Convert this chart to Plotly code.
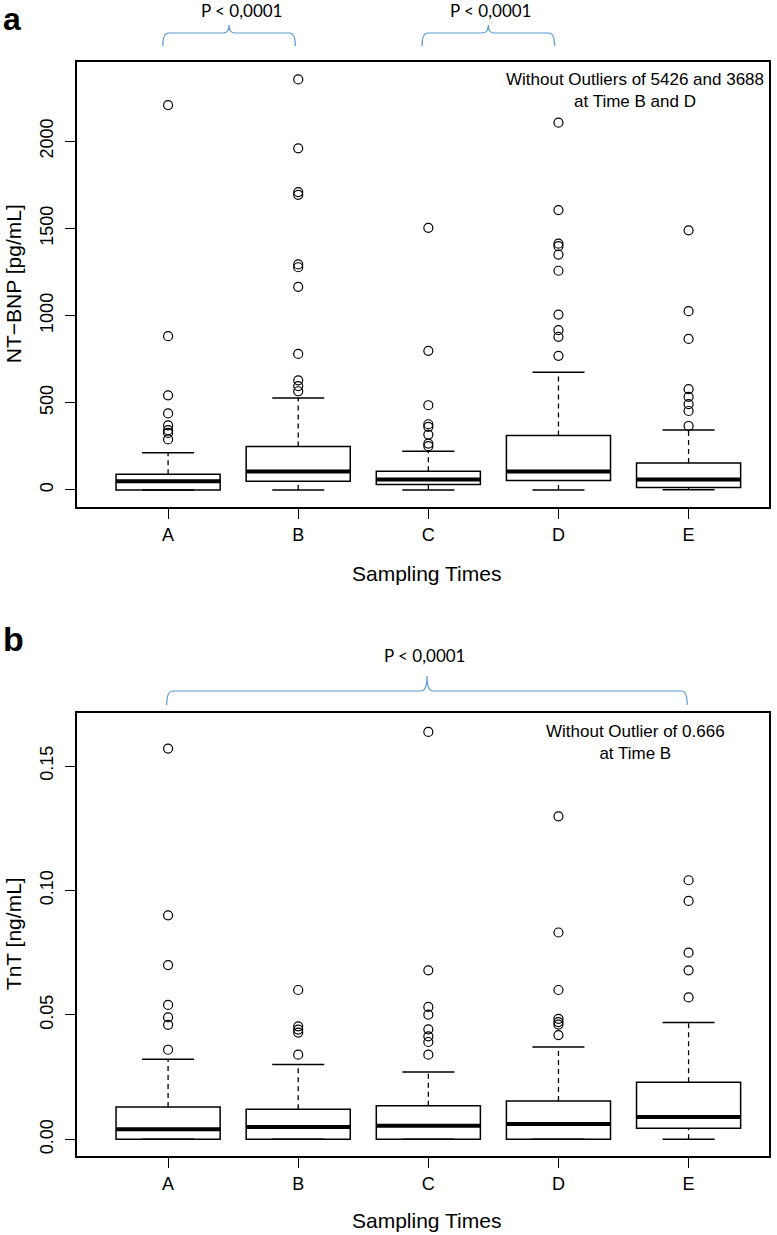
import plotly.graph_objects as go

# ---------------- data ----------------
categories = ["A", "B", "C", "D", "E"]

# Panel a: NT-BNP [pg/mL]
bnp_q1 = [0, 50, 31, 54, 14]
bnp_median = [50, 106, 60, 106, 60]
bnp_q3 = [90, 249, 107, 312, 155]
bnp_whisker_low = [0, 0, 0, 0, 2]
bnp_whisker_high = [214, 528, 222, 675, 344]
bnp_outliers = [
    [2207, 882, 543, 439, 371, 343, 327, 290],
    [2354, 1959, 1708, 1692, 1293, 1277, 1165, 780, 629, 596, 566],
    [1503, 798, 486, 377, 362, 318, 266, 251],
    [2106, 1605, 1412, 1398, 1350, 1257, 1006, 916, 878, 769],
    [1489, 1025, 866, 578, 534, 492, 453, 367],
]

# Panel b: TnT [ng/mL]
tnt_q1 = [0, 0, 0, 0, 0.0045]
tnt_median = [0.0040, 0.0050, 0.0055, 0.0062, 0.0090]
tnt_q3 = [0.0130, 0.0121, 0.0135, 0.0154, 0.0229]
tnt_whisker_low = [0, 0, 0, 0, 0]
tnt_whisker_high = [0.0322, 0.0301, 0.0271, 0.0371, 0.0469]
tnt_outliers = [
    [0.157, 0.090, 0.070, 0.054, 0.049, 0.046, 0.036],
    [0.060, 0.0454, 0.0441, 0.0429, 0.034],
    [0.1637, 0.0679, 0.0532, 0.0501, 0.0442, 0.0414, 0.0391, 0.034],
    [0.1298, 0.0831, 0.060, 0.0484, 0.0471, 0.0461, 0.0419],
    [0.1041, 0.0958, 0.075, 0.0679, 0.057],
]

bnp_ticks = [0, 500, 1000, 1500, 2000]
tnt_ticks = [0.0, 0.05, 0.10, 0.15]

# ---------------- styling ----------------
W, H = 777, 1235
ML, MR, MT, MB = 77, 6, 62, 79
PW, PH = W - ML - MR, H - MT - MB
FONT = "Liberation Sans, Arial, sans-serif"
PFONT = "Lato, Open Sans, sans-serif"
BLUE = "#5b9bd5"
BOX_W = 0.8
CAP_W = 0.4

positions = [i + 1 for i in range(len(categories))]


def px(x, y):
    """convert pixel location to paper coordinates"""
    return (x - ML) / PW, (H - MB - y) / PH


fig = go.Figure()


def add_panel(q1, med, q3, wlo, whi, outs, xa, ya):
    fig.add_trace(go.Box(
        x=positions, q1=q1, median=med, q3=q3,
        lowerfence=q1, upperfence=q3,
        width=BOX_W, whiskerwidth=0,
        fillcolor="white", line=dict(color="black", width=1.5),
        boxpoints=False, xaxis=xa, yaxis=ya, hoverinfo="skip",
    ))
    # dashed whiskers
    wx, wy = [], []
    for p, a, b, c, d in zip(positions, wlo, q1, q3, whi):
        wx += [p, p, None, p, p, None]
        wy += [a, b, None, c, d, None]
    fig.add_trace(go.Scatter(x=wx, y=wy, mode="lines", xaxis=xa, yaxis=ya,
                             line=dict(color="black", width=1.3, dash="5px,4px"),
                             hoverinfo="skip"))
    # caps
    cx, cy = [], []
    for p, a, d in zip(positions, wlo, whi):
        cx += [p - CAP_W / 2, p + CAP_W / 2, None, p - CAP_W / 2, p + CAP_W / 2, None]
        cy += [a, a, None, d, d, None]
    fig.add_trace(go.Scatter(x=cx, y=cy, mode="lines", xaxis=xa, yaxis=ya,
                             line=dict(color="black", width=1.5), hoverinfo="skip"))
    # thick medians
    mx, my = [], []
    for p, m in zip(positions, med):
        mx += [p - BOX_W / 2, p + BOX_W / 2, None]
        my += [m, m, None]
    fig.add_trace(go.Scatter(x=mx, y=my, mode="lines", xaxis=xa, yaxis=ya,
                             line=dict(color="black", width=4), hoverinfo="skip"))
    # outliers
    ox, oy = [], []
    for p, vals in zip(positions, outs):
        ox += [p] * len(vals)
        oy += vals
    fig.add_trace(go.Scatter(x=ox, y=oy, mode="markers", xaxis=xa, yaxis=ya,
                             marker=dict(symbol="circle-open", size=9,
                                         color="black", line=dict(width=1.2)),
                             hoverinfo="skip"))


add_panel(bnp_q1, bnp_median, bnp_q3, bnp_whisker_low, bnp_whisker_high,
          bnp_outliers, "x", "y")
add_panel(tnt_q1, tnt_median, tnt_q3, tnt_whisker_low, tnt_whisker_high,
          tnt_outliers, "x2", "y2")

xcommon = dict(range=[0.3, 5.618], tickvals=positions, ticktext=categories,
               ticks="outside", ticklen=10, tickwidth=1.2, tickcolor="black",
               showline=True, mirror=True, linecolor="black", linewidth=1.6,
               showgrid=False, zeroline=False, ticklabelstandoff=1,
               tickfont=dict(family=FONT, size=18, color="black"))
ycommon = dict(ticks="outside", ticklen=10, tickwidth=1.2, tickcolor="black",
               showline=True, mirror=True, linecolor="black", linewidth=1.6,
               showgrid=False, zeroline=False, tickangle=-90,
               ticklabelstandoff=5,
               tickfont=dict(family=FONT, size=18, color="black"))

ya_bot = (H - MB - 507) / PH
yb_top = (H - MB - 713) / PH

fig.update_layout(
    width=W, height=H,
    margin=dict(l=ML, r=MR, t=MT, b=MB),
    paper_bgcolor="white", plot_bgcolor="white",
    showlegend=False,
    xaxis=dict(domain=[0, 1], anchor="y", **xcommon),
    yaxis=dict(domain=[ya_bot, 1], anchor="x", range=[-97.5, 2453.8],
               tickvals=bnp_ticks, **ycommon),
    xaxis2=dict(domain=[0, 1], anchor="y2", **xcommon),
    yaxis2=dict(domain=[0, yb_top], anchor="x2", range=[-0.0067, 0.1713],
                tickvals=tnt_ticks, tickformat=".2f", **ycommon),
)

ann = []


def text(x, y, s, size, family=FONT, angle=0, bold=False, xanchor="center"):
    X, Y = px(x, y)
    ann.append(dict(x=X, y=Y, xref="paper", yref="paper", text=f"<b>{s}</b>" if bold else s,
                    showarrow=False, xanchor=xanchor, yanchor="middle", textangle=angle,
                    font=dict(family=family, size=size, color="black")))


text(1, 19, "a", 32, bold=True, xanchor="left")
text(1, 639, "b", 34, bold=True, xanchor="left")
text(242, 11, "P &lt; 0,0001", 17, family=PFONT)
text(492, 11, "P &lt; 0,0001", 17, family=PFONT)
text(426, 655, "P &lt; 0,0001", 17, family=PFONT)
text(637, 90, "Without Outliers of 5426 and 3688<br>at Time B and D", 17)
text(637, 742, "Without Outlier of 0.666<br>at Time B", 17)
text(14, 284, "NT−BNP [pg/mL]", 21, angle=-90)
text(14, 934, "TnT [ng/mL]", 21, angle=-90)
text(428, 573, "Sampling Times", 21)
text(428, 1220, "Sampling Times", 21)


def brace(x0, x1, ytop, ybot, ytip):
    xm = (x0 + x1) / 2
    r = 6

    def P(x, y):
        a, b = px(x, y)
        return f"{a:.5f},{b:.5f}"
    path = (f"M{P(x0, ybot)} Q{P(x0, ytop)} {P(x0 + r, ytop)} "
            f"L{P(xm - r, ytop)} Q{P(xm, ytop)} {P(xm, ytip)} "
            f"Q{P(xm, ytop)} {P(xm + r, ytop)} "
            f"L{P(x1 - r, ytop)} Q{P(x1, ytop)} {P(x1, ybot)}")
    return dict(type="path", path=path, xref="paper", yref="paper",
                line=dict(color=BLUE, width=1.2))


shapes = [
    brace(163, 296, 33, 46, 25),
    brace(423, 556, 33, 46, 25),
    brace(167, 689, 691, 705, 676),
]

fig.update_layout(annotations=ann, shapes=shapes)

fig.write_html("out.html", config={"displayModeBar": False},
               post_script="document.body.style.margin='0';document.body.style.padding='0';")
